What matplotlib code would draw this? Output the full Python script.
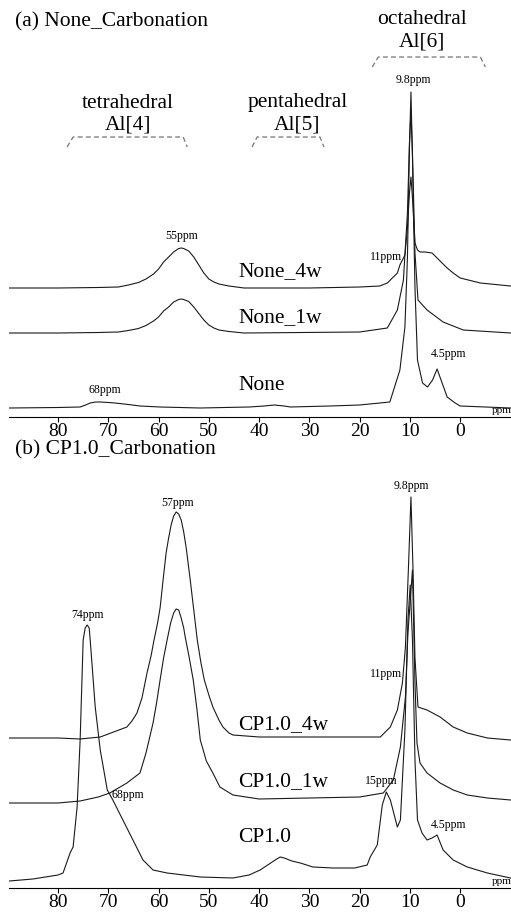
import matplotlib
matplotlib.use("Agg")
import matplotlib.pyplot as plt

plt.rcParams['font.family'] = ['Liberation Serif', 'DejaVu Serif']

# ---- data: chemical shift (ppm) and intensity above each trace's own baseline ----
# (a) None_Carbonation
none4w_ppm = [89.7, 80, 72, 68, 66, 64, 62.5, 61, 60, 59, 58, 57, 56, 55.5, 55, 54, 53, 52, 51, 50, 49,
              48, 46, 43, 30, 20, 16, 14.5, 12.5, 12, 11, 10.5, 10.1, 9.8, 9.5, 9.0, 8.5, 8, 7, 5.6,
              4, 2.6, 1.4, 0, -4, -10]
none4w_int = [0, 0, 0.5, 1, 3, 5.5, 9, 14, 19, 26, 31, 36, 39.5, 40, 39.5, 37, 31, 23, 15, 9, 6,
              4, 2, 0, 0, 1, 2, 5, 15, 23, 33, 60, 95, 111, 90, 45, 38, 36, 36, 35,
              27, 20, 15, 10, 5, 2]

none1w_ppm = [89.7, 80, 72, 68, 66, 64, 62.5, 61, 60, 59, 58, 57, 56, 55.5, 55, 54, 53, 52, 51, 50, 49,
              48, 46, 43, 20, 14.5, 12.5, 11.3, 10.5, 10.1, 9.8, 9.5, 9.0, 8.4, 6.6, 3.4, -0.6, -10]
none1w_int = [0, 0, 0.5, 1, 2.5, 4.5, 7.5, 12, 16, 22, 26, 31, 33.5, 34, 33.5, 31.5, 26, 19.5, 13, 8, 5,
              3, 1.5, 0, 1, 5, 23, 53, 120, 190, 221, 180, 80, 33, 23, 11, 3, 0]

none_ppm = [89.7, 80, 75.6, 74.5, 73.6, 72.5, 71.6, 70, 68.7, 66, 63.7, 59.7, 51.7, 42, 39, 37, 35,
            33.8, 25.9, 20, 16, 14, 12, 11, 10.5, 10.1, 9.8, 9.5, 9.0, 8.5, 7.5, 6.5, 5.5, 4.6, 3.6,
            2.6, 1, 0, -10]
none_int = [0, 0.5, 1, 3, 5, 6, 6, 5.5, 5, 3.5, 2, 1, 0, 1, 2, 3, 2,
            1, 2, 3, 5, 6, 38, 81, 150, 260, 316, 250, 120, 48, 25, 21, 28, 39, 25,
            11, 5, 2, 0]

# (b) CP1.0_Carbonation
cp4w_ppm = [89.7, 80, 75.6, 71.6, 66.3, 65.3, 64.3, 63.3, 62.3, 61.5, 60.9, 60.2, 59.7, 59.1, 58.5, 58,
            57.5, 57, 56.5, 56, 55.5, 55, 54.5, 54, 53.7, 53, 52.3, 51.6, 50.9, 50, 49.2, 48, 47.2,
            46, 45.2, 40, 20, 15.9, 13.9, 12.5, 11.5, 10.9, 10.3, 9.8, 9.4, 9.0, 8.4, 6.6, 4,
            1.4, -1.4, -5.4, -10]
cp4w_int = [0, 0, -1, 1, 11, 17, 25, 40, 65, 82, 98, 115, 130, 158, 185, 200,
            213, 222, 226, 224, 218, 206, 190, 170, 158, 128, 98, 76, 58, 43, 31, 18, 11,
            5, 3, 1, 1, 1, 11, 28, 55, 91, 170, 241, 170, 80, 31, 28, 21,
            11, 5, 0, -2]

cp1w_ppm = [89.7, 80, 75.6, 72, 69.7, 66.3, 63.7, 62.5, 61.1, 60.4, 59.7, 59, 58.3, 57.6, 57, 56.5,
            56, 55.5, 55, 54.7, 54, 53.1, 52.4, 51.7, 50.5, 49.2, 47.8, 45.2, 40, 20, 15.3, 13.3,
            11.9, 10.9, 10.4, 9.5, 9.0, 8.6, 8.0, 6.6, 4, 1.4, -1.4, -5.4, -10]
cp1w_int = [0, 0, 2, 6, 10, 20, 30, 50, 80, 100, 123, 145, 163, 180, 190, 194,
            193, 185, 175, 166, 148, 123, 95, 63, 42, 30, 16, 8, 4, 6, 10, 23,
            56, 106, 170, 233, 120, 60, 40, 30, 20, 13, 8, 5, 3]

cp_ppm = [89.7, 85, 80, 79, 77.6, 77, 76.2, 75.6, 75, 74.6, 74.2, 73.8, 73.6, 72.6, 71.6, 70.2, 69.1,
          67.1, 65.1, 63.1, 61.1, 58.3, 51.7, 45.2, 42, 39.8, 38, 36.5, 35.8, 35, 33.5, 31.8, 29.3,
          25.3, 21, 18.5, 17.9, 16.5, 15.5, 14.7, 13.9, 12.5, 11.9, 11.0, 10.4, 9.95, 9.5, 9.0,
          8.5, 7.6, 6.6, 5.6, 4.6, 3.4, 1.4, -1.4, -5.4, -10]
cp_int = [-1, 1, 5, 7, 27, 33, 73, 140, 240, 252, 255, 252, 240, 173, 130, 90, 80,
          60, 40, 20, 10, 7, 3, 2, 5, 10, 16, 21, 23, 22, 19, 17, 13,
          12, 12, 15, 23, 35, 75, 88, 80, 53, 60, 150, 260, 295, 240, 120,
          60, 47, 40, 42, 45, 30, 20, 13, 7, 2]

ticks = [80, 70, 60, 50, 40, 30, 20, 10, 0]

# ---- figure ----
W, H = 511, 915
fig = plt.figure(figsize=(W / 100, H / 100), dpi=100)

def make_axes(bottom_px, top_px):
    ax = fig.add_axes([9 / W, 1 - bottom_px / H, 502 / W, (bottom_px - top_px) / H])
    ax.set_xlim(89.75, -10.1)
    ax.set_ylim(0, bottom_px - top_px)
    for s in ['top', 'left', 'right']:
        ax.spines[s].set_visible(False)
    ax.spines['bottom'].set_linewidth(0.8)
    ax.set_yticks([])
    ax.set_xticks(ticks)
    ax.tick_params(axis='x', direction='out', length=3.6, width=0.8, pad=1.0, labelsize=14)
    ax.patch.set_alpha(0)
    ax.text(-8.3, 2, 'ppm', fontsize=8, ha='center', va='bottom')
    return ax

def trace(ax, ppm, inten, base):
    ax.plot(ppm, [v + base for v in inten], color='#1a1a1a', lw=0.8)

def bracket(ax, x0, x1, x2, x3, ylo, yhi):
    ax.plot([x0, x1, x2, x3], [ylo, yhi, yhi, ylo], color='#777777', lw=0.9,
            ls=(0, (4, 2.5)))

big = 15.5
small = 8.5

# panel (a): data y = 417 - pixel row
ax1 = make_axes(417, 0)
trace(ax1, none4w_ppm, none4w_int, 129)
trace(ax1, none1w_ppm, none1w_int, 84)
trace(ax1, none_ppm, none_int, 9)

bracket(ax1, 17.5, 16.3, -4.0, -5.0, 350, 360)
bracket(ax1, 78.2, 77.0, 55.1, 54.3, 270, 280)
bracket(ax1, 41.4, 40.4, 27.9, 27.1, 270, 280)
ax1.text(7.6, 397, 'octahedral', fontsize=big, ha='center', va='center')
ax1.text(7.6, 375, 'Al[6]', fontsize=big, ha='center', va='center')
ax1.text(66.1, 314, 'tetrahedral', fontsize=big, ha='center', va='center')
ax1.text(66.1, 292, 'Al[4]', fontsize=big, ha='center', va='center')
ax1.text(32.4, 314, 'pentahedral', fontsize=big, ha='center', va='center')
ax1.text(32.4, 292, 'Al[5]', fontsize=big, ha='center', va='center')

ax1.text(9.35, 337, '9.8ppm', fontsize=small, ha='center', va='center')
ax1.text(55.5, 181, '55ppm', fontsize=small, ha='center', va='center')
ax1.text(11.5, 160, '11ppm', fontsize=small, ha='right', va='center')
ax1.text(2.4, 63, '4.5ppm', fontsize=small, ha='center', va='center')
ax1.text(70.6, 27, '68ppm', fontsize=small, ha='center', va='center')

ax1.text(44.2, 145, 'None_4w', fontsize=big, ha='left', va='center')
ax1.text(44.2, 99, 'None_1w', fontsize=big, ha='left', va='center')
ax1.text(44.2, 32, 'None', fontsize=big, ha='left', va='center')

# panel (b): data y = 888 - pixel row
ax2 = make_axes(888, 460)
trace(ax2, cp4w_ppm, cp4w_int, 150)
trace(ax2, cp1w_ppm, cp1w_int, 85)
trace(ax2, cp_ppm, cp_int, 8)

ax2.text(56.3, 385, '57ppm', fontsize=small, ha='center', va='center')
ax2.text(74.2, 273, '74ppm', fontsize=small, ha='center', va='center')
ax2.text(9.75, 402, '9.8ppm', fontsize=small, ha='center', va='center')
ax2.text(11.5, 214, '11ppm', fontsize=small, ha='right', va='center')
ax2.text(15.7, 107, '15ppm', fontsize=small, ha='center', va='center')
ax2.text(2.4, 63, '4.5ppm', fontsize=small, ha='center', va='center')
ax2.text(69.3, 93, '68ppm', fontsize=small, ha='left', va='center')

ax2.text(44.2, 163, 'CP1.0_4w', fontsize=big, ha='left', va='center')
ax2.text(44.2, 106, 'CP1.0_1w', fontsize=big, ha='left', va='center')
ax2.text(44.2, 51, 'CP1.0', fontsize=big, ha='left', va='center')

fig.text(15 / W, 1 - 22 / H, '(a) None_Carbonation', fontsize=big, ha='left', va='center')
fig.text(15 / W, 1 - 450 / H, '(b) CP1.0_Carbonation', fontsize=big, ha='left', va='center')

fig.savefig('out.png', dpi=100)
